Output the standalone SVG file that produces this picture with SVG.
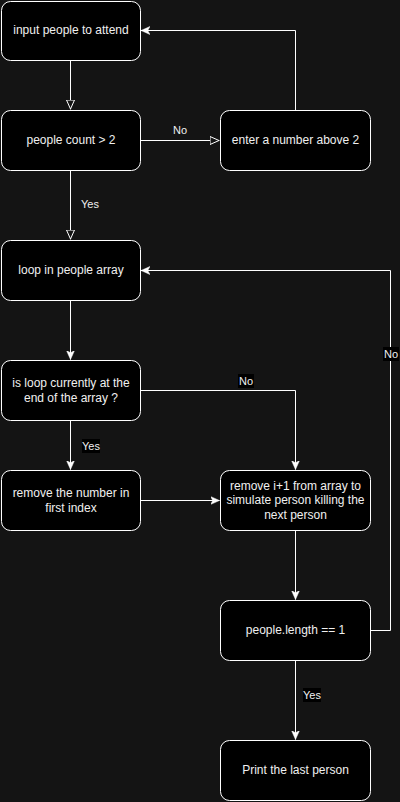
<svg xmlns="http://www.w3.org/2000/svg" width="400" height="802" viewBox="0 0 400 802">
<defs>
<style>
.box{fill:#000;stroke:#fff;stroke-width:1}
.t{font-family:"Liberation Sans",Arial,sans-serif;font-size:12px;fill:#f0f0f0;text-anchor:middle}
.l{font-family:"Liberation Sans",Arial,sans-serif;font-size:11px;fill:#f0f0f0;text-anchor:middle}
.e{fill:none;stroke:#fff;stroke-width:1}
.lb{fill:#000}
</style>
<marker id="open" viewBox="0 0 10 10" refX="10" refY="5" markerWidth="10" markerHeight="10" markerUnits="userSpaceOnUse" orient="auto">
<path d="M0.5,1 L9.5,5 L0.5,9 Z" fill="#141414" stroke="#fff" stroke-width="1"/>
</marker>
<marker id="fill" viewBox="0 0 10 10" refX="10" refY="5" markerWidth="9" markerHeight="9" markerUnits="userSpaceOnUse" orient="auto">
<path d="M0,0.5 L10,5 L0,9.5 L2.5,5 Z" fill="#fff" stroke="#fff" stroke-width="0.5"/>
</marker>
</defs>
<rect width="400" height="802" fill="#141414"/>
<g id="connectors">
<path class="e" d="M70.5,60.5 V109.5" marker-end="url(#open)"/>
<path class="e" d="M140.5,140.5 H219.5" marker-end="url(#open)"/>
<path class="e" d="M70.5,170.5 V239.5" marker-end="url(#open)"/>
<path class="e" d="M295.5,110.5 V30.5 H141" marker-end="url(#fill)"/>
<path class="e" d="M70.5,300.5 V359.5" marker-end="url(#fill)"/>
<path class="e" d="M140.5,390.5 H295.5 V469.5" marker-end="url(#fill)"/>
<path class="e" d="M70.5,420.5 V469.5" marker-end="url(#fill)"/>
<path class="e" d="M140.5,500.5 H219.5" marker-end="url(#fill)"/>
<path class="e" d="M295.5,530.5 V599.5" marker-end="url(#fill)"/>
<path class="e" d="M370.5,630.5 H390.5 V270.5 H141" marker-end="url(#fill)"/>
<path class="e" d="M295.5,660.5 V739.5" marker-end="url(#fill)"/>
<text class="l" x="180" y="134">No</text>
<text class="l" x="90" y="208">Yes</text>
<rect class="lb" x="238" y="374" width="16" height="14"/>
<text class="l" x="246" y="385">No</text>
<rect class="lb" x="82" y="439" width="18" height="14"/>
<text class="l" x="91" y="450">Yes</text>
<rect class="lb" x="383" y="347" width="16" height="14"/>
<text class="l" x="391" y="358">No</text>
<rect class="lb" x="303" y="688" width="18" height="14"/>
<text class="l" x="312" y="699">Yes</text>
</g>
<g id="n1"><rect class="box" x="1.5" y="1.5" width="139" height="59" rx="9"/><text class="t" x="71" y="34">input people to attend</text></g>
<g id="n2"><rect class="box" x="1.5" y="110.5" width="139" height="60" rx="9"/><text class="t" x="71" y="144">people count &gt; 2</text></g>
<g id="n3"><rect class="box" x="220.5" y="110.5" width="150" height="60" rx="9"/><text class="t" x="295.5" y="144">enter a number above 2</text></g>
<g id="n4"><rect class="box" x="1.5" y="240.5" width="139" height="60" rx="9"/><text class="t" x="71" y="274">loop in people array</text></g>
<g id="n5"><rect class="box" x="1.5" y="360.5" width="139" height="60" rx="9"/><text class="t" x="71" y="387">is loop currently at the</text><text class="t" x="71" y="402">end of the array ?</text></g>
<g id="n6"><rect class="box" x="1.5" y="470.5" width="139" height="60" rx="9"/><text class="t" x="71" y="497">remove the number in</text><text class="t" x="71" y="512">first index</text></g>
<g id="n7"><rect class="box" x="220.5" y="470.5" width="150" height="60" rx="9"/><text class="t" x="295.5" y="490">remove i+1 from array to</text><text class="t" x="295.5" y="504">simulate person killing the</text><text class="t" x="295.5" y="519">next person</text></g>
<g id="n8"><rect class="box" x="220.5" y="600.5" width="150" height="60" rx="9"/><text class="t" x="295.5" y="634">people.length == 1</text></g>
<g id="n9"><rect class="box" x="220.5" y="740.5" width="150" height="60" rx="9"/><text class="t" x="295.5" y="774">Print the last person</text></g>
</svg>
